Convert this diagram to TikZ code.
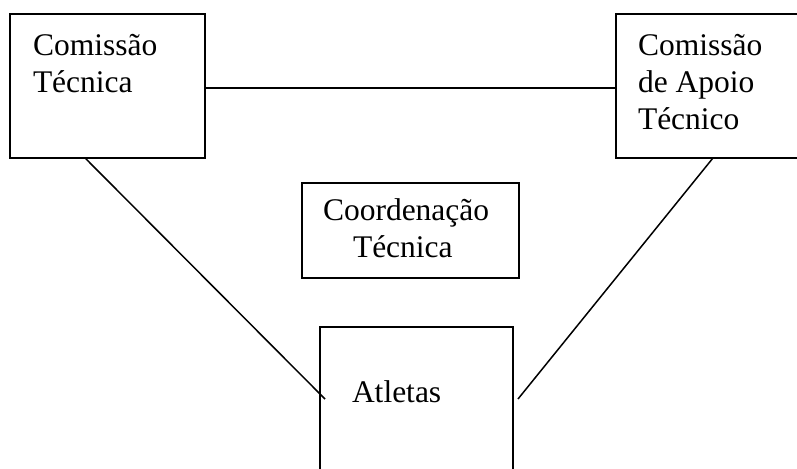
\documentclass[tikz,border=0pt]{standalone}
\usepackage{fontspec}
\setmainfont{Liberation Serif}
\usetikzlibrary{calc}
\begin{document}
\begin{tikzpicture}[x=0.5pt,y=-0.5pt,
  box/.style={draw, line width=0.85pt, inner sep=0pt, outer sep=0pt},
  lbl/.style={anchor=base west, align=left, inner sep=0pt, outer sep=0pt,
    font=\fontsize{15.75pt}{18.6pt}\selectfont},
  conn/.style={line width=0.75pt}]
\useasboundingbox (0,0) rectangle (797,469);
% boxes
\node[box, minimum width=97.5pt, minimum height=72pt] (tl) at (107.5,86) {};
\node[box, minimum width=92pt, minimum height=72pt] (tr) at (708,86) {};
\node[box, minimum width=108.5pt, minimum height=47.5pt] (mid) at (410.5,230.5) {};
\node[box, minimum width=96.5pt, minimum height=81.5pt] (atl) at (416.5,408.5) {};
% texts (anchored at the baseline of the last line)
\node[lbl] (tlt) at (33,93) {Comissão\\Técnica};
\node[lbl] (trt) at (638,130) {Comissão\\de Apoio\\Técnico};
\node[lbl] (midt) at (323,258) {Coordenação\\\hspace*{15pt}Técnica};
\node[lbl] (atlt) at (352,403) {Atletas};
% connectors
\draw[conn] ([yshift=-1pt]tl.east) -- ([yshift=-1pt]tl.east -| tr.west);
\coordinate (la) at ($(tl.south west)!0.385!(tl.south east)$);
\coordinate (lb) at (325,399);
\draw[conn] (la) -- (lb);
\coordinate (ra) at ($(tr.south west)!0.527!(tr.south east)$);
\coordinate (rb) at (518,399);
\draw[conn] (ra) -- (rb);
\end{tikzpicture}
\end{document}
